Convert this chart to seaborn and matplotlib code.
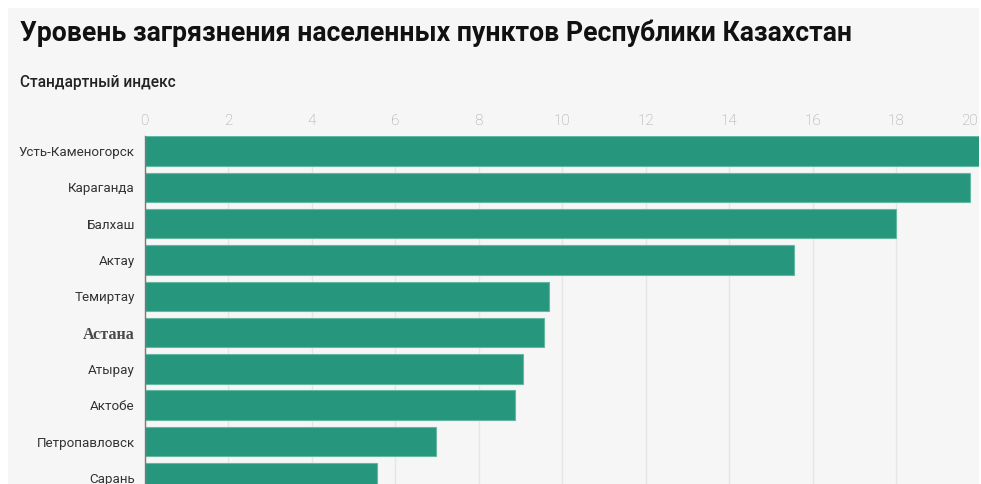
import matplotlib
matplotlib.use("Agg")
import matplotlib.pyplot as plt
from matplotlib.patches import Rectangle
from matplotlib.transforms import ScaledTranslation
import seaborn as sns
import pandas as pd

cities = ["Усть-Каменогорск", "Караганда", "Балхаш", "Актау", "Темиртау",
          "Астана", "Атырау", "Актобе", "Петропавловск", "Сарань"]
index_values = [20.3, 19.75, 18.0, 15.55, 9.68, 9.57, 9.05, 8.86, 6.97, 5.57]
x_ticks = [0, 2, 4, 6, 8, 10, 12, 14, 16, 18, 20]

title = "Уровень загрязнения населенных пунктов Республики Казахстан"
subtitle = "Стандартный индекс"

df = pd.DataFrame({"city": cities, "value": index_values})

sns.set_theme(style="white")
plt.rcParams["font.family"] = ["Roboto", "DejaVu Sans"]

W, H = 981, 484
fig = plt.figure(figsize=(W / 100, H / 100), dpi=100, facecolor="white")

# light panel behind the chart
fig.patches.append(Rectangle((8 / W, 0), (979 - 8) / W, (H - 8) / H,
                             transform=fig.transFigure, facecolor="#f6f6f6",
                             edgecolor="none", zorder=-10))

ax_left, ax_right = 144.5 / W, 980 / W
ax_top = 1 - 136 / H
ax = fig.add_axes([ax_left, 0, ax_right - ax_left, ax_top])
ax.set_facecolor("#f6f6f6")

sns.barplot(data=df, x="value", y="city", orient="h", color="#26977c",
            saturation=1, width=0.81, edgecolor="#62b8a1", linewidth=0.8,
            ax=ax, zorder=3)

ax.set_xlim(0, 20)
ax.set_ylim(9.17, -0.413)
ax.set_xticks(x_ticks)
ax.set_xticklabels([str(t) for t in x_ticks])
ax.xaxis.tick_top()
ax.tick_params(axis="x", length=0, pad=6, labelsize=11, labelcolor="#a0a0a0")
ax.tick_params(axis="y", length=0, pad=7, labelsize=9.6, labelcolor="#333333")
for lbl in ax.get_xticklabels():
    lbl.set_fontweight("light")
last = ax.get_xticklabels()[-1]
last.set_horizontalalignment("right")
last.set_transform(last.get_transform() + ScaledTranslation(-2 / 100, 0, fig.dpi_scale_trans))
ax.set_xlabel("")
ax.set_ylabel("")
ax.grid(axis="x", color="#e6e6e6", linewidth=1, zorder=0)
ax.set_axisbelow(True)

for side in ["top", "right", "bottom"]:
    ax.spines[side].set_visible(False)
ax.spines["left"].set_color("#7a7a7a")
ax.spines["left"].set_linewidth(1)
ax.spines["left"].set_zorder(5)

for lbl in ax.get_yticklabels():
    if lbl.get_text() == "Астана":
        lbl.set_family(["Liberation Serif", "DejaVu Serif"])
        lbl.set_fontweight("bold")
        lbl.set_fontsize(11.5)
        lbl.set_color("#4a4a4a")

fig.text(20 / W, 1 - 33 / H, title, fontsize=19.2, fontweight="bold",
         color="#111111", ha="left", va="center")
fig.text(20 / W, 1 - 82 / H, subtitle, fontsize=11.2, fontweight="medium",
         color="#222222", ha="left", va="center")

# white strip on the right edge
fig.patches.append(Rectangle((979 / W, 0), 2 / W, 1, transform=fig.transFigure,
                             facecolor="white", edgecolor="none", zorder=20))

fig.savefig("out.png", dpi=100, facecolor="white")
